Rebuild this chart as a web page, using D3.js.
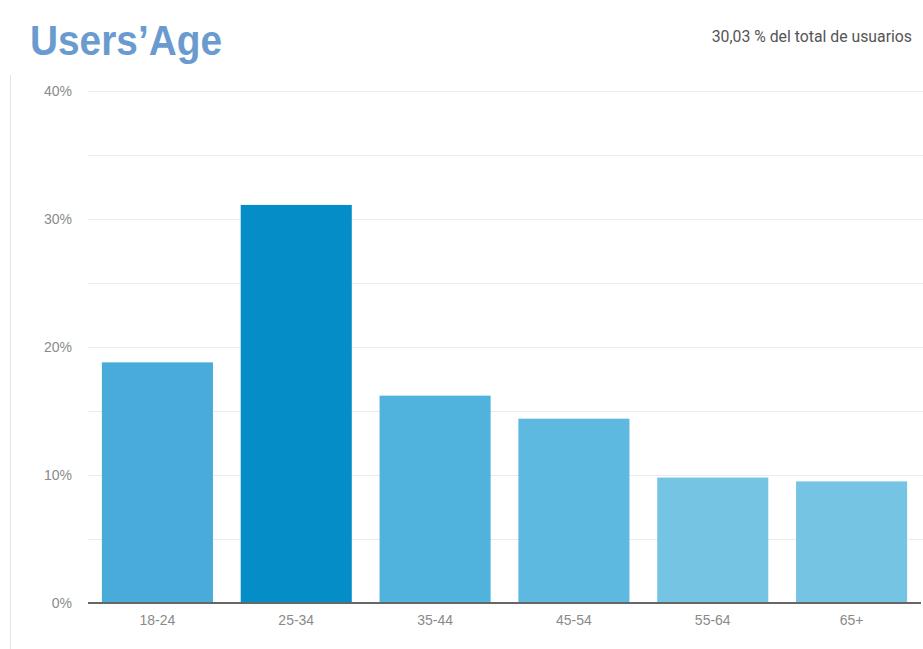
<!DOCTYPE html>
<html>
<head>
<meta charset="utf-8">
<script src="https://cdn.jsdelivr.net/npm/d3@7"></script>
<style>
  html, body { margin: 0; padding: 0; background: #fff; }
  svg { display: block; }
</style>
</head>
<body>
<svg id="chart" width="923" height="649"></svg>
<script>
const categories = ["18-24", "25-34", "35-44", "45-54", "55-64", "65+"];
const values = [18.8, 31.1, 16.2, 14.4, 9.8, 9.5];
const barColors = ["#48abd9", "#058dc7", "#50b3dd", "#5db9e0", "#76c4e4", "#76c4e4"];
const yTicks = [0, 10, 20, 30, 40];
const gridTicks = [0, 5, 10, 15, 20, 25, 30, 35, 40];
const titleText = "Users’Age";
const subtitleText = "30,03 % del total de usuarios";

const svg = d3.select("#chart");
const W = 923, H = 649;
const plot = { left: 88, right: 921, top: 91, bottom: 603 };

const x = d3.scaleBand().domain(categories).range([plot.left, plot.right]).paddingInner(0.2).paddingOuter(0.1);
const y = d3.scaleLinear().domain([0, 40]).range([plot.bottom, plot.top]);

// left frame line
svg.append("line").attr("x1", 10.5).attr("x2", 10.5).attr("y1", 75).attr("y2", H)
  .attr("stroke", "#e3e3e3").attr("stroke-width", 1);

// gridlines
svg.append("g").selectAll("line").data(gridTicks.filter(d => d > 0)).join("line")
  .attr("x1", plot.left).attr("x2", W)
  .attr("y1", d => Math.round(y(d)) + 0.5).attr("y2", d => Math.round(y(d)) + 0.5)
  .attr("stroke", "#ebebeb").attr("stroke-width", 1);

// y axis labels
const yAxis = d3.axisLeft(y).tickValues(yTicks).tickFormat(d => d + "%").tickSize(0).tickPadding(0);
const yg = svg.append("g").attr("transform", `translate(72,0)`).call(yAxis);
yg.select(".domain").remove();
yg.selectAll("text").attr("fill", "#8a8a8a").style("font-family", "Arial, 'Liberation Sans', sans-serif").style("font-size", "14px");

// bars
svg.append("g").selectAll("rect").data(categories).join("rect")
  .attr("x", d => x(d))
  .attr("width", x.bandwidth())
  .attr("y", (d, i) => y(values[i]))
  .attr("height", (d, i) => y(0) - y(values[i]))
  .attr("fill", (d, i) => barColors[i]);

// baseline
svg.append("line").attr("x1", plot.left).attr("x2", plot.right)
  .attr("y1", y(0)).attr("y2", y(0))
  .attr("stroke", "#666").attr("stroke-width", 2);

// x axis labels
const xAxis = d3.axisBottom(x).tickSize(0).tickPadding(0);
const xg = svg.append("g").attr("transform", `translate(0,${plot.bottom + 12})`).call(xAxis);
xg.select(".domain").remove();
xg.selectAll("text").attr("fill", "#8a8a8a").attr("dy", "0.71em").style("font-family", "Arial, 'Liberation Sans', sans-serif").style("font-size", "14px");

// title
svg.append("text").attr("x", 30).attr("y", 55)
  .attr("textLength", 192).attr("lengthAdjust", "spacingAndGlyphs")
  .attr("fill", "#6a9bcf")
  .style("font-family", "Arial, 'Liberation Sans', sans-serif")
  .style("font-weight", "bold").style("font-size", "43px")
  .text(titleText);

// subtitle
svg.append("text").attr("x", 912).attr("y", 42).attr("text-anchor", "end")
  .attr("fill", "#555")
  .style("font-family", "Roboto, sans-serif").style("font-size", "15.8px")
  .text(subtitleText);
</script>
</body>
</html>
